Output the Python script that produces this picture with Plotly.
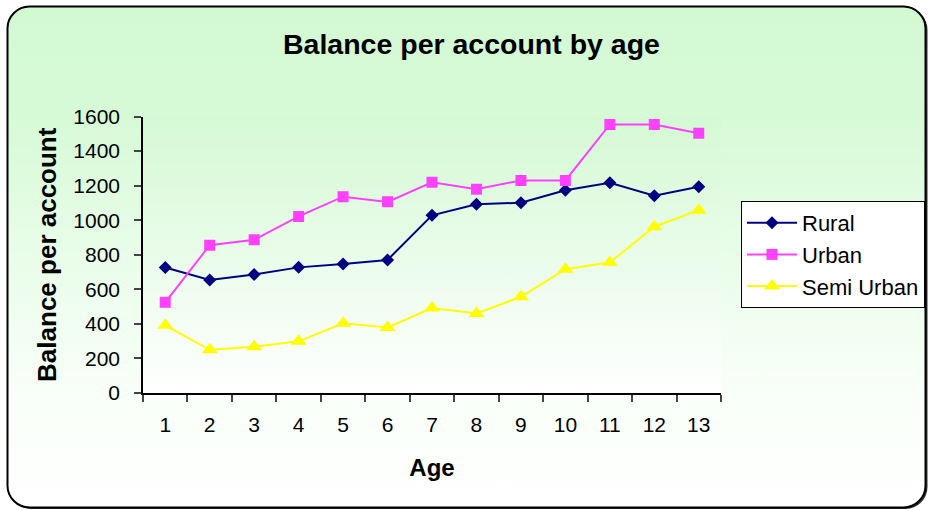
import base64
import plotly.graph_objects as go

# Balance per account by age group, for each area type
ages = ["1", "2", "3", "4", "5", "6", "7", "8", "9", "10", "11", "12", "13"]
rural = [726, 654, 686, 727, 747, 770, 1028, 1092, 1101, 1173, 1216, 1142, 1194]
urban = [525, 855, 887, 1022, 1136, 1106, 1219, 1179, 1230, 1230, 1554, 1554, 1503]
semi_urban = [392, 250, 268, 299, 403, 379, 492, 460, 557, 716, 756, 962, 1058]

y_ticks = [0, 200, 400, 600, 800, 1000, 1200, 1400, 1600]

W, H = 928, 510
FONT = "Liberation Sans, Arial, sans-serif"

# plot area in pixels
PX0, PX1 = 143, 721
PY0, PY1 = 116.5, 393

# Background: rounded chart frame and plot area, both with a green-to-white fade
svg = f"""<svg xmlns='http://www.w3.org/2000/svg' width='{W}' height='{H}' viewBox='0 0 {W} {H}' preserveAspectRatio='none'>
<defs>
<linearGradient id='cg' x1='0' y1='0' x2='0' y2='1'>
<stop offset='0' stop-color='#d3f9d3'/>
<stop offset='0.22' stop-color='#d6fad6'/>
<stop offset='0.5' stop-color='#e9fde9'/>
<stop offset='0.78' stop-color='#f9fff9'/>
<stop offset='1' stop-color='#ffffff'/>
</linearGradient>
<linearGradient id='pg' x1='0' y1='0' x2='0' y2='1'>
<stop offset='0' stop-color='#d4f9d4'/>
<stop offset='1' stop-color='#ffffff'/>
</linearGradient>
</defs>
<rect x='9.5' y='8' width='918' height='501' rx='22' ry='22' fill='#333'/>
<rect x='7.5' y='6.5' width='918' height='501' rx='22' ry='22' fill='url(#cg)' stroke='#000' stroke-width='2'/>
<rect x='{PX0}' y='{PY0}' width='{PX1 - PX0}' height='{PY1 - PY0}' fill='url(#pg)'/>
</svg>"""
bg_uri = "data:image/svg+xml;base64," + base64.b64encode(svg.encode()).decode()

fig = go.Figure()

series = [
    ("Rural", rural, "#000080", "diamond", 10),
    ("Urban", urban, "#ff40ff", "square", 11),
    ("Semi Urban", semi_urban, "#ffff00", "triangle-up", 14),
]
for name, vals, color, symbol, size in series:
    fig.add_trace(go.Scatter(
        x=ages, y=vals, name=name, legendgroup=name,
        mode="lines+markers",
        line=dict(color=color, width=2),
        marker=dict(symbol=symbol, size=size, color=color),
    ))

fig.update_layout(
    width=W, height=H,
    margin=dict(l=0, r=0, t=0, b=0, autoexpand=False),
    paper_bgcolor="white",
    plot_bgcolor="rgba(0,0,0,0)",
    font=dict(family=FONT, color="#000"),
    images=[dict(source=bg_uri, xref="paper", yref="paper", x=0, y=1,
                 sizex=1, sizey=1, xanchor="left", yanchor="top",
                 sizing="stretch", layer="below")],
    title=dict(text="<b>Balance per account by age</b>",
               font=dict(size=28.5, family=FONT, color="#000"),
               x=471.5 / W, xanchor="center", xref="container",
               y=1 - 44 / H, yanchor="middle", yref="container"),
    showlegend=True,
    legend=dict(x=741 / W, y=1 - 201 / H, xanchor="left", yanchor="top",
                bgcolor="white", bordercolor="#000", borderwidth=1,
                font=dict(size=22, family=FONT, color="#000"),
                itemwidth=50, tracegroupgap=7, traceorder="normal"),
    xaxis=dict(
        type="category", domain=[PX0 / W, PX1 / W], range=[-0.5, 12.5],
        automargin=False,
        showgrid=False, zeroline=False,
        showline=True, linecolor="#000", linewidth=1.5,
        ticks="outside", tickson="boundaries", ticklen=7, tickcolor="#444",
        tickwidth=1.5,
        tickfont=dict(size=21, family=FONT, color="#000"),
        ticklabelstandoff=12,
        title=dict(text="<b>Age</b>", font=dict(size=24, family=FONT, color="#000"),
                   standoff=24),
    ),
    yaxis=dict(
        domain=[1 - PY1 / H, 1 - PY0 / H], range=[0, 1600],
        automargin=False,
        tickvals=y_ticks, showgrid=False, zeroline=False,
        showline=True, linecolor="#000", linewidth=1.5,
        ticks="outside", ticklen=7, tickcolor="#444", tickwidth=1.5,
        tickfont=dict(size=21, family=FONT, color="#000"),
        ticklabelstandoff=10,
        title=dict(text="<b>Balance per account</b>",
                   font=dict(size=26, family=FONT, color="#000"), standoff=9),
    ),
)

fig.write_html("out.html")
